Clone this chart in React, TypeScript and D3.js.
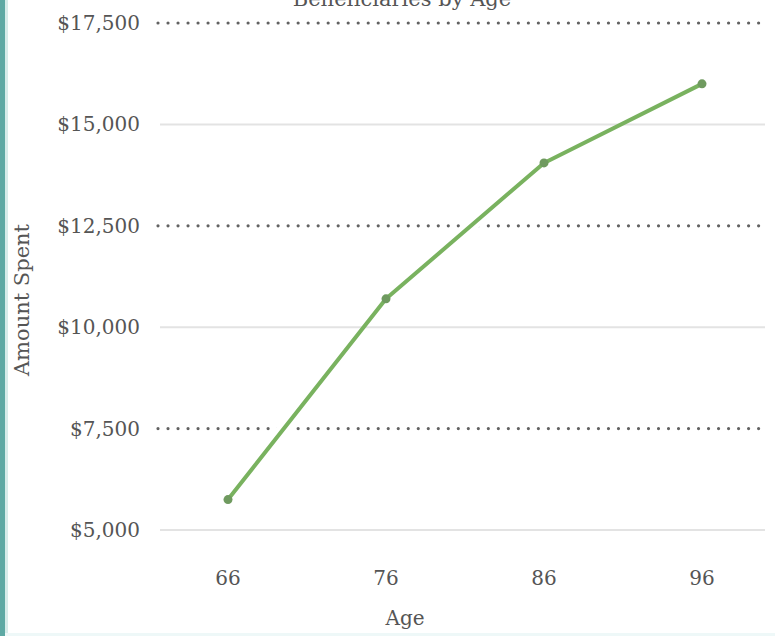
import React from 'react';
import * as d3 from 'd3';

// Average amount spent per beneficiary, by age
const ages = [66, 76, 86, 96];
const amountSpent = [5750, 10700, 14050, 16000];
const yTicks = [5000, 7500, 10000, 12500, 15000, 17500];
const dottedTicks = [7500, 12500, 17500];
const chartTitle = 'Beneficiaries by Age';
const xTitle = 'Age';
const yTitle = 'Amount Spent';

const W = 775;
const H = 636;
const FONT = '"DejaVu Serif", serif';
const TEXT = '#555555';
const GREEN = '#79b25f';
const MARKER = '#6f9a5f';

export default function App() {
  const x = d3.scalePoint<number>().domain(ages).range([228, 702]);
  const y = d3.scaleLinear().domain([5000, 17500]).range([530, 23]);
  const gridX0 = 158;
  const gridX1 = 765;
  const fmt = d3.format('$,');

  const pts: [number, number][] = ages.map((a, i) => [x(a) as number, y(amountSpent[i])]);
  const path = d3.line()(pts) ?? '';

  return (
    <svg
      width={W}
      height={H}
      style={{ position: 'absolute', left: 0, top: 0, background: '#fff' }}
      fontFamily={FONT}
    >
      <rect x={0} y={0} width={W} height={H} fill="#fff" />
      {/* teal accent on the left edge */}
      <rect x={0} y={0} width={5} height={H} fill="#5ea9a4" />
      <rect x={5} y={0} width={3} height={H} fill="#d6ecea" />
      <rect x={5} y={H - 3} width={W - 5} height={3} fill="#eef8f8" />

      {/* dotted gridlines */}
      {dottedTicks.map((t) => (
        <line
          key={'d' + t}
          x1={gridX0}
          x2={gridX1}
          y1={y(t)}
          y2={y(t)}
          stroke="#626262"
          strokeWidth={3.2}
          strokeLinecap="round"
          strokeDasharray="0.01 10"
        />
      ))}

      {/* white halo that breaks the dotted lines where the series crosses */}
      <path d={path} fill="none" stroke="#fff" strokeWidth={13} strokeLinejoin="round" />

      {/* solid gridlines */}
      {yTicks
        .filter((t) => !dottedTicks.includes(t))
        .map((t) => (
          <line
            key={'s' + t}
            x1={gridX0 + 2}
            x2={gridX1}
            y1={y(t)}
            y2={y(t)}
            stroke="#e3e3e3"
            strokeWidth={2}
          />
        ))}

      {/* y tick labels */}
      {yTicks.map((t) => (
        <text
          key={'yl' + t}
          x={140}
          y={y(t)}
          dy="0.35em"
          textAnchor="end"
          fontSize={20}
          fill={TEXT}
        >
          {fmt(t)}
        </text>
      ))}

      {/* x tick labels */}
      {ages.map((a) => (
        <text
          key={'xl' + a}
          x={x(a)}
          y={578}
          dy="0.35em"
          textAnchor="middle"
          fontSize={20}
          fill={TEXT}
        >
          {a}
        </text>
      ))}

      {/* series */}
      <path d={path} fill="none" stroke={GREEN} strokeWidth={4} strokeLinejoin="round" />
      {pts.map(([px, py], i) => (
        <circle key={'p' + i} cx={px} cy={py} r={4.5} fill={MARKER} />
      ))}

      {/* titles */}
      <text x={402} y={6} textAnchor="middle" fontSize={21} fill={TEXT}>
        {chartTitle}
      </text>
      <text x={405} y={618} dy="0.35em" textAnchor="middle" fontSize={20} fill={TEXT}>
        {xTitle}
      </text>
      <text
        transform="translate(22,300) rotate(-90)"
        dy="0.35em"
        textAnchor="middle"
        fontSize={21}
        fill={TEXT}
      >
        {yTitle}
      </text>
    </svg>
  );
}
